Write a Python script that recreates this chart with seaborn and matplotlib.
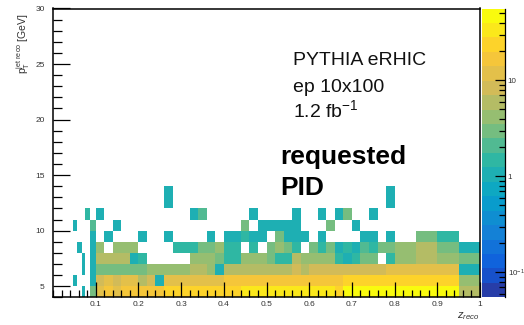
import numpy as np
import pandas as pd
import matplotlib
matplotlib.use("Agg")
import matplotlib.pyplot as plt
from matplotlib.colors import LinearSegmentedColormap, ListedColormap, LogNorm
from matplotlib.ticker import FixedLocator, NullFormatter
import seaborn as sns

# ---------------------------------------------------------------- binning
# z_reco: fine bins at low z, 0.02 in the bulk, 0.05 at high z
z_edges = np.array([0.046, 0.057, 0.069, 0.076, 0.086]
                   + list(np.round(np.arange(0.10, 0.801, 0.02), 3))
                   + [0.85, 0.90, 0.95, 1.00])
# jet pT: 1 GeV bins
pt_edges = np.arange(4, 15, 1)

# ---------------------------------------------------------------- bin contents (one list per pT bin)
pt_4_5 = [0, 0, 1, 0, 2.5, 13, 15, 14, 16, 15, 17, 18, 19, 20, 21, 22, 24, 25, 26, 27, 28, 28, 29, 30,
          30, 31, 32, 32, 32, 33, 32, 33, 30, 20, 40, 44, 45, 45, 46, 48, 50, 46, 44, 6]
pt_5_6 = [1, 0, 0, 0, 1, 9, 11, 8, 10, 11, 7, 9, 1.2, 10, 12, 12, 13, 13, 14, 14, 15, 15, 16, 16,
          17, 17, 17, 18, 18, 18, 19, 18, 19, 18, 20, 20, 21, 20, 21, 22, 22, 21, 20, 4]
pt_6_7 = [0, 0, 1, 0, 1, 2.5, 3, 2.8, 3, 2.5, 3.5, 4, 4, 4.5, 4, 4.5, 5, 5, 4.5, 1.2, 5, 5.5, 6, 6,
          6, 6.5, 7, 7, 7.5, 7, 8, 7.5, 8, 8, 8, 8.5, 9, 9, 9, 10, 11, 11, 10, 1.2]
pt_7_8 = [0, 0, 1, 0, 1, 5, 5.5, 6, 5, 1.2, 1.3, 0, 0, 0, 0, 0, 4, 4.5, 4, 2.5, 1.3, 1.3, 4, 4.5,
          4, 3.5, 1.3, 1.3, 6, 4, 4.5, 4, 4, 1.3, 1.2, 1.3, 3.5, 3.5, 0, 1.5, 4, 6, 4, 3.5]
pt_8_9 = [0, 1, 0, 0, 1, 4, 0, 4, 4.5, 4, 0, 0, 0, 0, 1.3, 1.3, 1.3, 2.5, 2.5, 4, 1.3, 1.3, 0, 1.3,
          0, 3.5, 4, 3.5, 1.3, 0, 3.5, 1.5, 2.5, 1.2, 1.5, 1.2, 2, 1.5, 2.5, 3.5, 4, 5, 3.5, 1.2]
pt_9_10 = [0, 0, 0, 0, 1, 0, 1, 0, 0, 0, 1, 0, 0, 1, 0, 0, 0, 0, 1, 0, 1, 1, 1.5, 1,
           1, 0, 2.5, 1, 1, 1, 0, 1, 0, 0, 0, 0, 1, 1, 0, 1, 0, 3, 1.5, 0]
pt_10_11 = [1, 0, 0, 0, 2, 0, 0, 1, 0, 0, 0, 0, 0, 0, 0, 0, 0, 0, 0, 0, 0, 0, 2.5, 0,
            1, 1, 1, 1, 1, 0, 0, 0, 2.5, 0, 0, 1, 0, 0, 0, 0, 0, 0, 0, 0]
pt_11_12 = [0, 0, 0, 1.5, 0, 1, 0, 0, 0, 0, 0, 0, 0, 0, 0, 0, 1, 1.8, 0, 0, 0, 0, 0, 1,
            0, 0, 0, 0, 1, 0, 0, 1, 0, 1, 2.5, 0, 0, 1, 0, 0, 0, 0, 0, 0]
pt_12_13 = [0] * 13 + [1] + [0] * 25 + [1] + [0] * 4
pt_13_14 = [0] * 13 + [1] + [0] * 25 + [1] + [0] * 4

pt_rows = [pt_4_5, pt_5_6, pt_6_7, pt_7_8, pt_8_9, pt_9_10, pt_10_11, pt_11_12, pt_12_13, pt_13_14]

# long-form table: one weighted entry at the centre of every filled bin
records = []
for i, row in enumerate(pt_rows):
    for j, w in enumerate(row):
        if w > 0:
            records.append((0.5 * (z_edges[j] + z_edges[j + 1]), pt_edges[i] + 0.5, w))
df = pd.DataFrame(records, columns=["z_reco", "pt_jet", "weight"])

# ---------------------------------------------------------------- palette (ROOT kBird, 20 contour levels)
bird_r = [0.2082, 0.0592, 0.0780, 0.0232, 0.1802, 0.5301, 0.8186, 0.9956, 0.9764]
bird_g = [0.1664, 0.3599, 0.5041, 0.6419, 0.7178, 0.7492, 0.7328, 0.7862, 0.9832]
bird_b = [0.5293, 0.8684, 0.8385, 0.7914, 0.6425, 0.4662, 0.3499, 0.1968, 0.0539]
bird = LinearSegmentedColormap.from_list(
    "bird", list(zip(np.linspace(0, 1, 9), zip(bird_r, bird_g, bird_b))))
n_levels = 20
bird20 = ListedColormap([bird((i + 1) / n_levels) for i in range(n_levels)])
z_min, z_max = 0.055, 56.0

# ---------------------------------------------------------------- style
plt.rcParams["font.family"] = ["Liberation Sans", "DejaVu Sans"]
plt.rcParams["mathtext.fontset"] = "custom"
plt.rcParams["mathtext.rm"] = "Liberation Sans"
plt.rcParams["mathtext.it"] = "Liberation Sans:italic"
plt.rcParams["mathtext.bf"] = "Liberation Sans:bold"

W, H = 524, 325
fig = plt.figure(figsize=(W / 100, H / 100), dpi=100)
ax = fig.add_axes([53 / W, 1 - 297.3 / H, 427 / W, 288.8 / H])
cax = fig.add_axes([481.5 / W, 1 - 297.3 / H, 23.5 / W, 288.8 / H])

sns.histplot(data=df, x="z_reco", y="pt_jet", weights="weight",
             bins=(z_edges, pt_edges), cmap=bird20, cbar=False, ax=ax)
mesh = ax.collections[0]
mesh.set_norm(LogNorm(vmin=z_min, vmax=z_max))

# ---------------------------------------------------------------- axes
ax.set_xlim(0, 1)
ax.set_ylim(4, 30)
tick_col = "#333333"
ax.set_xticks(np.round(np.arange(0.1, 1.01, 0.1), 1))
ax.set_xticklabels(["0.1", "0.2", "0.3", "0.4", "0.5", "0.6", "0.7", "0.8", "0.9", "1"])
ax.xaxis.set_minor_locator(FixedLocator(np.arange(0, 1.001, 0.02)))
ax.set_yticks([5, 10, 15, 20, 25, 30])
ax.yaxis.set_minor_locator(FixedLocator(np.arange(4, 31, 1)))
ax.tick_params(axis="both", which="both", direction="in", top=False, right=False,
               labelsize=6, labelcolor=tick_col, color="black", width=0.9)
ax.tick_params(axis="x", which="major", length=11, pad=3)
ax.tick_params(axis="x", which="minor", length=5)
ax.tick_params(axis="y", which="major", length=12, pad=6)
ax.tick_params(axis="y", which="minor", length=6.5)
for sp in ax.spines.values():
    sp.set_linewidth(1.1)
    sp.set_color("black")

ax.set_xlabel(r"$z_{reco}$", fontsize=8, color=tick_col, loc="right")
ax.xaxis.set_label_coords(1.0, -0.045)
ax.set_ylabel(r"$\mathrm{p}_{\mathrm{T}}^{\mathrm{jet\ reco}}$ [GeV]", fontsize=7.5,
              color=tick_col, loc="top")
ax.yaxis.set_label_coords(-0.05, 0.985)

# ---------------------------------------------------------------- colour scale
cbar = fig.colorbar(mesh, cax=cax)
cbar.outline.set_visible(False)
cbar.set_ticks([0.1, 1, 10])
cbar.set_ticklabels([r"$10^{-1}$", "1", "10"])
minor_vals = [0.06, 0.07, 0.08, 0.09] + [k / 10 for k in range(2, 10)] + list(range(2, 10)) + [20, 30, 40, 50]
cax.yaxis.set_minor_locator(FixedLocator(minor_vals))
cax.yaxis.set_minor_formatter(NullFormatter())
cax.tick_params(axis="y", which="both", direction="in", right=True, left=False,
                labelsize=5.8, labelcolor=tick_col, color="black", width=0.9, pad=2)
cax.tick_params(axis="y", which="major", length=7)
cax.tick_params(axis="y", which="minor", length=4)
cax.plot([1, 1], [0, 1], transform=cax.transAxes, color="black", lw=0.9, clip_on=False)

# ---------------------------------------------------------------- labels on the pad
fig.text(293 / W, 1 - 65 / H, "PYTHIA eRHIC", fontsize=14, va="baseline", color="#111111")
fig.text(293 / W, 1 - 91.7 / H, "ep 10x100", fontsize=14, va="baseline", color="#111111")
fig.text(293 / W, 1 - 117.3 / H, r"1.2 fb$^{-1}$", fontsize=14, va="baseline", color="#111111")
fig.text(280 / W, 1 - 164.3 / H, "requested", fontsize=19, fontweight="bold", va="baseline", color="black")
fig.text(280 / W, 1 - 195 / H, "PID", fontsize=19, fontweight="bold", va="baseline", color="black")

fig.savefig("out.png", dpi=100, facecolor="white")
